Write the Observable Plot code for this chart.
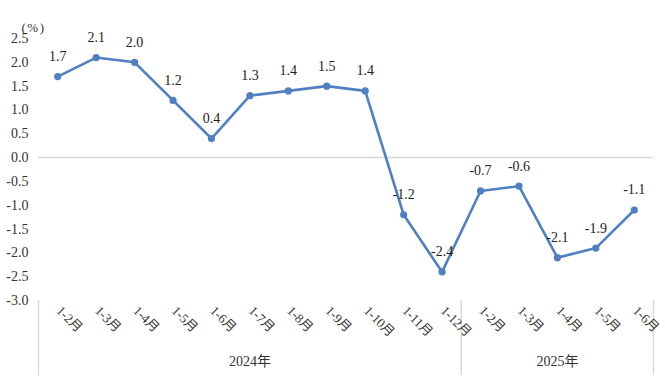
<!DOCTYPE html>
<html><head><meta charset="utf-8">
<script src="https://cdn.jsdelivr.net/npm/d3@7"></script>
<script src="https://cdn.jsdelivr.net/npm/@observablehq/plot@0.6"></script>
<style>body{margin:0;background:#fff} svg text{font-family:"Liberation Serif","Noto Sans CJK SC",serif;} .unit text{letter-spacing:1.5px}</style>
</head><body><div id="chart"></div>
<script>
const months = ["1-2月","1-3月","1-4月","1-5月","1-6月","1-7月","1-8月","1-9月","1-10月","1-11月","1-12月","1-2月","1-3月","1-4月","1-5月","1-6月"];
const yearOf = ["2024年","2024年","2024年","2024年","2024年","2024年","2024年","2024年","2024年","2024年","2024年","2025年","2025年","2025年","2025年","2025年"];
const values = [1.7,2.1,2.0,1.2,0.4,1.3,1.4,1.5,1.4,-1.2,-2.4,-0.7,-0.6,-2.1,-1.9,-1.1];
const yTicks = [-3.0,-2.5,-2.0,-1.5,-1.0,-0.5,0.0,0.5,1.0,1.5,2.0,2.5];
const unitLabel = "(%)";

const data = months.map((m, i) => ({i, month: m, year: yearOf[i], value: values[i]}));
const years = [...new Set(yearOf)];
const groups = years.map(y => {
  const idx = data.filter(d => d.year === y).map(d => d.i);
  const lo = d3.min(idx), hi = d3.max(idx);
  return {year: y, lo, hi, mid: Math.floor((lo + hi) / 2)};
});
const bounds = [groups[0].lo - 0.5, ...groups.map(g => g.hi + 0.5)];

const color = "#5080c2";
const font = "Liberation Serif, Noto Sans CJK SC, serif";

const chart = Plot.plot({
  width: 665,
  height: 383,
  marginLeft: 38,
  marginRight: 12,
  marginTop: 38,
  marginBottom: 83,
  style: {fontFamily: font, fontSize: "14px", color: "#333", background: "#fff"},
  x: {domain: [-0.5, months.length - 0.5], axis: null},
  y: {domain: [yTicks[0], yTicks[yTicks.length - 1]], ticks: yTicks, tickFormat: d => d.toFixed(1), tickSize: 0, tickPadding: 10, label: null},
  marks: [
    Plot.ruleY([0], {stroke: "#d9d9d9", strokeWidth: 1.5}),
    Plot.ruleX(bounds, {x: d => d, y1: yTicks[0], y2: yTicks[0], insetBottom: -75, stroke: "#d9d9d9", strokeWidth: 1.5}),
    Plot.line(data, {x: "i", y: "value", stroke: color, strokeWidth: 2.6}),
    Plot.dot(data, {x: "i", y: "value", r: 3.6, fill: color, stroke: "none"}),
    Plot.text(data, {x: "i", y: "value", text: d => d.value.toFixed(1), dy: -20, fontSize: 14, fontFamily: font, fill: "#222"}),
    Plot.text(data, {x: "i", text: "month", frameAnchor: "bottom", dy: 11, dx: -2, rotate: 45, textAnchor: "start", fontSize: 13, fontFamily: font, fill: "#333"}),
    Plot.text(groups, {x: "mid", text: "year", frameAnchor: "bottom", dy: 65, fontSize: 14, fontFamily: font, fill: "#333"}),
    Plot.text([unitLabel], {text: d => d, frameAnchor: "top-left", textAnchor: "middle", dx: -5, dy: -16, fontSize: 13, fontFamily: font, fill: "#333", className: "unit"})
  ]
});
document.getElementById("chart").append(chart);
</script>
</body></html>
